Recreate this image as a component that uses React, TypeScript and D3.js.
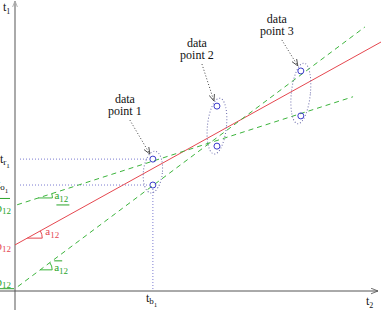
import React from "react";
import * as d3 from "d3";

// ---- data (abstract diagram units, 0..100 on each axis) ----
const pointLabels = ["data point 1", "data point 2", "data point 3"];
const pointX = [38.3, 56.1, 79.4];
const upperY = [45.8, 64.2, 76.4];
const lowerY = [36.8, 50.3, 60.8];

const lineNames = ["fit", "upper", "lower"];
const lineIntercepts = [16.0, 29.7, 0.8];
const lineSlopes = [0.693, 0.402, 0.935];
const lineXStart = [0, 0.6, 0.8];
const lineXEnd = [102, 93.9, 97.2];

const W = 381;
const H = 314;
const FONT = "Liberation Serif, Times New Roman, serif";
const RED = "#e5474f";
const GREEN = "#3cb43c";
const GREEN_T = "#2aa52a";
const BLUE = "#3a3acc";
const DOT = "#7a7ad0";

export default function App() {
  const x = d3.scaleLinear().domain([0, 100]).range([15, 375]);
  const y = d3.scaleLinear().domain([0, 100]).range([291, 3]);

  const lineGen = d3
    .line<[number, number]>()
    .x((d) => x(d[0]))
    .y((d) => y(d[1]));

  const lines = lineNames.map((name, i) => {
    const f = (t: number) => lineIntercepts[i] + lineSlopes[i] * t;
    return {
      name,
      f,
      d: lineGen([
        [lineXStart[i], f(lineXStart[i])],
        [lineXEnd[i], f(lineXEnd[i])],
      ]),
    };
  });

  const marker = (i: number, t: number, r: number) => {
    const cx = x(t);
    const cy = y(lines[i].f(t));
    const pxSlope = (lineSlopes[i] * 2.88) / 3.6;
    const th = Math.atan(pxSlope);
    const p = d3.path();
    p.moveTo(cx, cy);
    p.lineTo(cx + r, cy);
    p.arc(cx, cy, r, 0, -th, true);
    return { d: p.toString(), cx, cy, r };
  };
  const mRed = marker(0, 3.4, 15);
  const mUp = marker(1, 6.5, 14);
  const mLow = marker(2, 7.0, 12);

  const ellipses = pointX.map((px, i) => {
    const cx = x(px);
    const cyU = y(upperY[i]);
    const cyL = y(lowerY[i]);
    return { cx, cy: (cyU + cyL) / 2, rx: 9.5, ry: (cyL - cyU) / 2 + 8 };
  });

  const labelOff = [
    { dx: -28, dy: -56 },
    { dx: -20, dy: -59 },
    { dx: -24, dy: -48 },
  ];

  const ts = { fontFamily: FONT };

  return (
    <svg
      width={W}
      height={H}
      style={{ position: "absolute", left: 0, top: 0, background: "#fff", fontFamily: FONT }}
    >
      <defs>
        <marker id="ax" viewBox="0 0 10 10" refX="10" refY="5" markerWidth="9" markerHeight="7" orient="auto" markerUnits="userSpaceOnUse">
          <path d="M0,1 L10,5 L0,9" fill="none" stroke="#555" strokeWidth="1.2" />
        </marker>
        <marker id="ay" viewBox="0 0 10 10" refX="10" refY="5" markerWidth="7" markerHeight="6" orient="auto" markerUnits="userSpaceOnUse">
          <path d="M0,1 L10,5 L0,9" fill="none" stroke="#aaa" strokeWidth="1.5" />
        </marker>
        <marker id="ar" viewBox="0 0 10 10" refX="10" refY="5" markerWidth="7" markerHeight="7" orient="auto" markerUnits="userSpaceOnUse">
          <path d="M0,1 L10,5 L0,9" fill="none" stroke="#444" strokeWidth="1.2" />
        </marker>
      </defs>

      {/* axes */}
      <line x1={x(0)} y1={H - 4} x2={x(0)} y2={1} stroke="#aaa" strokeWidth={2} markerEnd="url(#ay)" />
      <line x1={0} y1={y(0)} x2={378} y2={y(0)} stroke="#555" strokeWidth={1} markerEnd="url(#ax)" />

      {/* guide dotted lines for data point 1 */}
      <line x1={20} y1={y(upperY[0])} x2={x(pointX[0]) - 4} y2={y(upperY[0])} stroke={DOT} strokeDasharray="1,2" />
      <line x1={20} y1={y(lowerY[0])} x2={x(pointX[0]) - 4} y2={y(lowerY[0])} stroke={DOT} strokeDasharray="1,2" />
      <line x1={x(pointX[0])} y1={y(lowerY[0]) + 4} x2={x(pointX[0])} y2={y(0)} stroke={DOT} strokeDasharray="1,2" />

      {/* lines */}
      <path d={lines[0].d!} stroke={RED} strokeWidth={1} fill="none" />
      <path d={lines[1].d!} stroke={GREEN} strokeWidth={1} strokeDasharray="5,4" fill="none" />
      <path d={lines[2].d!} stroke={GREEN} strokeWidth={1} strokeDasharray="5,4" fill="none" />

      {/* angle markers */}
      <path d={mRed.d} stroke={RED} fill="none" />
      <path d={mUp.d} stroke={GREEN} fill="none" />
      <path d={mLow.d} stroke={GREEN} fill="none" />

      {/* ellipses */}
      {ellipses.map((e, i) => (
        <ellipse
          key={i}
          cx={e.cx}
          cy={e.cy}
          rx={e.rx}
          ry={e.ry}
          fill="none"
          stroke="#6a6aaa"
          strokeDasharray="1,2"
          transform={`rotate(6 ${e.cx} ${e.cy})`}
        />
      ))}

      {/* data points */}
      {pointX.map((px, i) => (
        <g key={i}>
          <circle cx={x(px)} cy={y(upperY[i])} r={3} fill="none" stroke={BLUE} />
          <circle cx={x(px)} cy={y(lowerY[i])} r={3} fill="none" stroke={BLUE} />
        </g>
      ))}

      {/* labels with arrows */}
      {pointLabels.map((lab, i) => {
        const tx = x(pointX[i]) + labelOff[i].dx;
        const ty = y(upperY[i]) + labelOff[i].dy;
        const parts = lab.split(" ");
        return (
          <g key={i}>
            <text x={tx} y={ty} textAnchor="middle" fontSize={12} fill="#111" style={ts}>
              {parts[0]}
            </text>
            <text x={tx} y={ty + 12} textAnchor="middle" fontSize={12} fill="#111" style={ts}>
              {parts[1] + " " + parts[2]}
            </text>
            <line
              x1={tx + 5}
              y1={ty + 17}
              x2={x(pointX[i]) - 3}
              y2={y(upperY[i]) - 5}
              stroke="#444"
              strokeDasharray="1,2"
              markerEnd="url(#ar)"
            />
          </g>
        );
      })}

      {/* axis labels */}
      <text x={3} y={11} fontSize={12} fill="#111" style={ts}>
        t<tspan fontSize={8} dy={3}>1</tspan>
      </text>
      <text x={366} y={305} fontSize={12} fill="#111" style={ts}>
        t<tspan fontSize={8} dy={3}>2</tspan>
      </text>
      <text x={146} y={302} fontSize={12} fill="#111" style={ts}>
        t<tspan fontSize={9} dy={2}>b</tspan>
        <tspan fontSize={7} dy={3}>1</tspan>
      </text>

      {/* left labels (partly clipped at left edge, as in the reference) */}
      <text x={0} y={y(upperY[0]) + 4} fontSize={12} fill="#111" style={ts}>
        t<tspan fontSize={9} dy={2}>r</tspan>
        <tspan fontSize={7} dy={3}>1</tspan>
      </text>
      <text x={-3} y={y(lowerY[0]) + 3} fontSize={12} fill="#111" style={ts}>
        t<tspan fontSize={9} dy={2}>o</tspan>
        <tspan fontSize={7} dy={3}>1</tspan>
      </text>
      <g fill={GREEN_T}>
        <line x1={0} y1={y(lineIntercepts[1]) - 7} x2={10} y2={y(lineIntercepts[1]) - 7} stroke={GREEN_T} />
        <text x={-4} y={y(lineIntercepts[1]) + 7} fontSize={12} style={ts}>
          b<tspan fontSize={9} dy={2}>12</tspan>
        </text>
      </g>
      <text x={-4} y={y(lineIntercepts[0]) + 5} fontSize={12} fill={RED} style={ts}>
        b<tspan fontSize={9} dy={2}>12</tspan>
      </text>
      <g fill={GREEN_T}>
        <text x={-4} y={y(lineIntercepts[2]) - 3} fontSize={12} style={ts}>
          b<tspan fontSize={9} dy={2}>12</tspan>
        </text>
        <line x1={0} y1={y(lineIntercepts[2])} x2={14} y2={y(lineIntercepts[2])} stroke={GREEN_T} />
      </g>

      {/* angle labels */}
      <text x={mRed.cx + mRed.r + 3} y={mRed.cy - 3} fontSize={11} fill={RED} style={ts}>
        a<tspan fontSize={9} dy={3}>12</tspan>
      </text>
      <g fill={GREEN_T}>
        <text x={mUp.cx + mUp.r + 2} y={mUp.cy + 1} fontSize={11} style={ts}>
          a<tspan fontSize={9} dy={3}>12</tspan>
        </text>
        <line x1={mUp.cx + mUp.r + 4} y1={mUp.cy + 7} x2={mUp.cx + mUp.r + 17} y2={mUp.cy + 7} stroke={GREEN_T} />
      </g>
      <g fill={GREEN_T}>
        <line x1={mLow.cx + mLow.r + 2} y1={mLow.cy - 9} x2={mLow.cx + mLow.r + 10} y2={mLow.cy - 9} stroke={GREEN_T} />
        <text x={mLow.cx + mLow.r + 2} y={mLow.cy + 1} fontSize={11} style={ts}>
          a<tspan fontSize={9} dy={3}>12</tspan>
        </text>
      </g>
    </svg>
  );
}
